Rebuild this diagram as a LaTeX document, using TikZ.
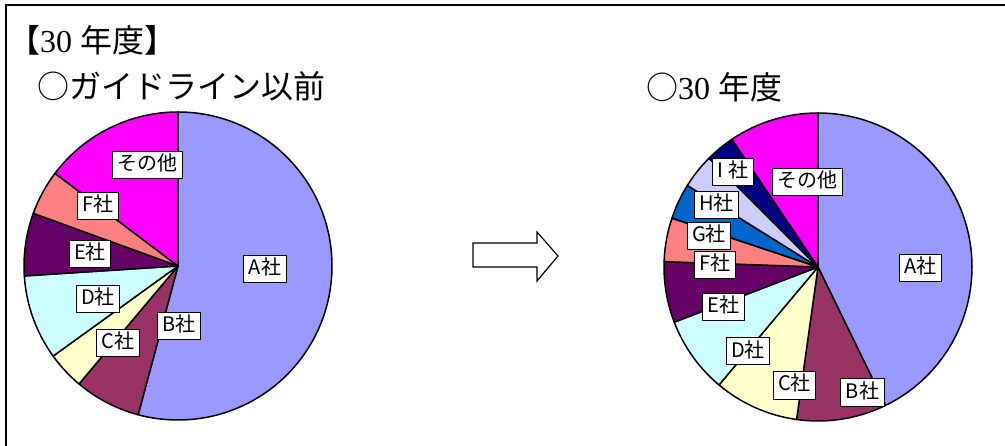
\documentclass[tikz,border=0pt]{standalone}
\usepackage{fontspec}
\setmainfont{Liberation Serif}
\newfontfamily\jpfont{Noto Sans CJK JP}
\usetikzlibrary{positioning}
\definecolor{periwinkle}{RGB}{153,153,255}
\definecolor{plum}{RGB}{153,51,102}
\definecolor{paleyellow}{RGB}{255,255,204}
\definecolor{palecyan}{RGB}{204,255,255}
\definecolor{darkpurple}{RGB}{102,0,102}
\definecolor{salmon}{RGB}{255,128,128}
\definecolor{oceanblue}{RGB}{0,102,204}
\definecolor{lavender}{RGB}{204,204,255}
\definecolor{navyblue}{RGB}{0,0,128}
\definecolor{vividmagenta}{RGB}{255,0,255}

\begin{document}
\begin{tikzpicture}[x=1pt, y=1pt,
    wedge/.style={draw=black, line width=1.5pt, line join=round},
    share/.style={draw=black, fill=white, line width=1pt, inner xsep=5pt, inner ysep=4pt,
      text height=15pt, text depth=4pt, font=\jpfont\fontsize{20}{20}\selectfont},
    heading/.style={anchor=west, inner sep=0pt, font=\fontsize{32}{32}\selectfont}]
    \useasboundingbox (0,0) rectangle (1005,445);
    \draw[line width=1.5pt] (6,-2) -- (6,440) -- (1007,440);

    \node[heading] (year)   at (8,405)   {{\jpfont 【}30 {\jpfont 年度】}};
    \node[heading] (before) at (37,359)  {{\jpfont ○ガイドライン以前}};
    \node[heading] (after)  at (646,358) {{\jpfont ○}30 {\jpfont 年度}};

    \coordinate (lpie) at (178,179);
    \coordinate (rpie) at (818,178);

    \draw[wedge, fill=periwinkle]   (lpie) -- ++(90:154)     arc[start angle=90,     end angle=-105,   radius=154] -- cycle;
    \draw[wedge, fill=plum]         (lpie) -- ++(-105:154)   arc[start angle=-105,   end angle=-130,   radius=154] -- cycle;
    \draw[wedge, fill=paleyellow]   (lpie) -- ++(-130:154)   arc[start angle=-130,   end angle=-144.2, radius=154] -- cycle;
    \draw[wedge, fill=palecyan]     (lpie) -- ++(-144.2:154) arc[start angle=-144.2, end angle=-176.3, radius=154] -- cycle;
    \draw[wedge, fill=darkpurple]   (lpie) -- ++(-176.3:154) arc[start angle=-176.3, end angle=-200,   radius=154] -- cycle;
    \draw[wedge, fill=salmon]       (lpie) -- ++(-200:154)   arc[start angle=-200,   end angle=-217,   radius=154] -- cycle;
    \draw[wedge, fill=vividmagenta] (lpie) -- ++(-217:154)   arc[start angle=-217,   end angle=-270,   radius=154] -- cycle;

    \node[share] (la)     at (265,176) {A社};
    \node[share] (lb)     at (179,119) {B社};
    \node[share] (lc)     at (118,102) {C社};
    \node[share] (ld)     at (98,146)  {D社};
    \node[share] (le)     at (90,191)  {E社};
    \node[share] (lf)     at (98,239)  {F社};
    \node[share] (lother) at (147,280) {その他};

    \draw[line width=1.2pt, line join=miter, fill=white]
      (473,202) -- (537,202) -- (537,213) -- (558,189) -- (537,164) -- (537,178) -- (473,178) -- cycle;

    \draw[wedge, fill=periwinkle]   (rpie) -- ++(90:154)     arc[start angle=90,     end angle=-64,    radius=154] -- cycle;
    \draw[wedge, fill=plum]         (rpie) -- ++(-64:154)    arc[start angle=-64,    end angle=-98,    radius=154] -- cycle;
    \draw[wedge, fill=paleyellow]   (rpie) -- ++(-98:154)    arc[start angle=-98,    end angle=-130,   radius=154] -- cycle;
    \draw[wedge, fill=palecyan]     (rpie) -- ++(-130:154)   arc[start angle=-130,   end angle=-159,   radius=154] -- cycle;
    \draw[wedge, fill=darkpurple]   (rpie) -- ++(-159:154)   arc[start angle=-159,   end angle=-182,   radius=154] -- cycle;
    \draw[wedge, fill=salmon]       (rpie) -- ++(-182:154)   arc[start angle=-182,   end angle=-198.5, radius=154] -- cycle;
    \draw[wedge, fill=oceanblue]    (rpie) -- ++(-198.5:154) arc[start angle=-198.5, end angle=-212,   radius=154] -- cycle;
    \draw[wedge, fill=lavender]     (rpie) -- ++(-212:154)   arc[start angle=-212,   end angle=-225,   radius=154] -- cycle;
    \draw[wedge, fill=navyblue]     (rpie) -- ++(-225:154)   arc[start angle=-225,   end angle=-236,   radius=154] -- cycle;
    \draw[wedge, fill=vividmagenta] (rpie) -- ++(-236:154)   arc[start angle=-236,   end angle=-270,   radius=154] -- cycle;

    \node[share] (ra)     at (920.5,176.5) {A社};
    \node[share] (rb)     at (862.5,52.5)  {B社};
    \node[share] (rc)     at (794.5,59.5)  {C社};
    \node[share] (rd)     at (748,93.5)    {D社};
    \node[share] (re)     at (723.5,137.5) {E社};
    \node[share] (rf)     at (715,179.5)   {F社};
    \node[share] (rg)     at (709,209)     {G社};
    \node[share] (rh)     at (716.5,240)   {H社};
    \node[share] (ri)     at (733,272.5)   {I 社};
    \node[share] (rother) at (807.5,262.5) {その他};
\end{tikzpicture}
\end{document}
